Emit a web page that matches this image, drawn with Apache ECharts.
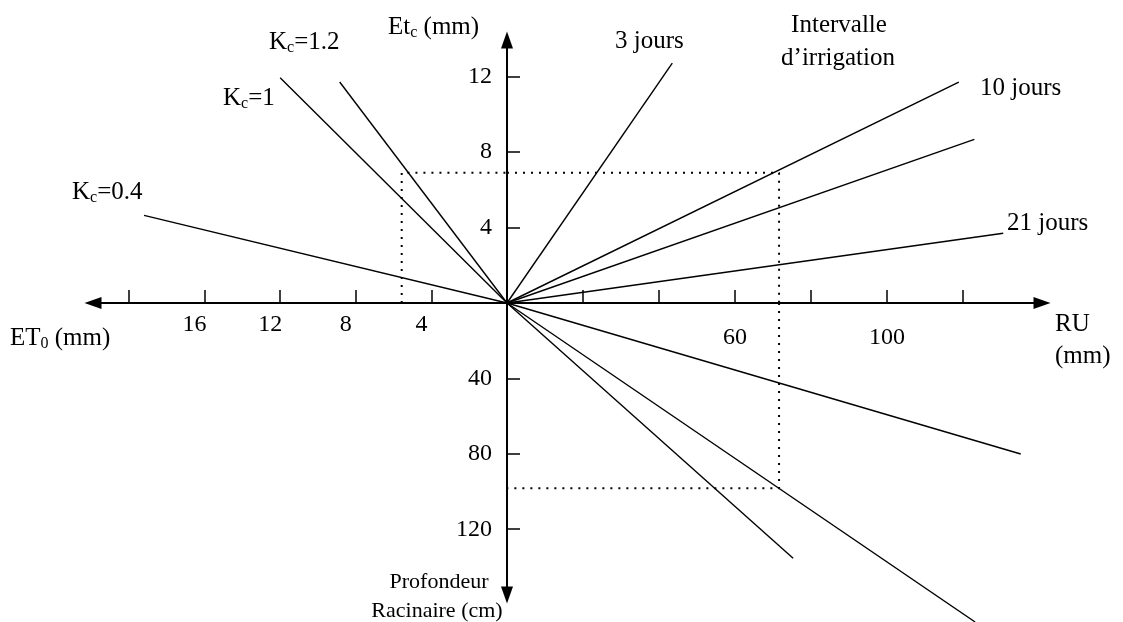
<!DOCTYPE html>
<html><head><meta charset="utf-8">
<script src="https://cdn.jsdelivr.net/npm/echarts@6/dist/echarts.min.js"></script>
<style>html,body{margin:0;padding:0;background:#fff}#c{width:1123px;height:622px}</style>
</head><body><div id="c"></div>
<script>
// ---- axis ticks / labels ----
const et0TickValues = [4, 8, 12, 16, 20];
const et0LabelValues = [4, 8, 12, 16];
const etcTickValues = [4, 8, 12];
const ruTickValues = [20, 40, 60, 80, 100, 120];
const ruLabelValues = [60, 100];
const depthTickValues = [40, 80, 120];

// ---- Kc lines (upper-left quadrant): end points (ET0 mm, ETc mm) ----
const kcNames = ['0.4', '1', '1.2'];
const kcEt0 = [19.2, 12.0, 8.85];
const kcEtc = [4.65, 11.95, 11.72];

// ---- irrigation-interval lines (upper-right): end points (RU mm, ETc mm) ----
const intervalNames = ['3 jours', '10 jours', '', '21 jours'];
const intervalRU = [43.5, 118.9, 123.0, 130.6];
const intervalEtc = [12.72, 11.71, 8.68, 3.70];

// ---- root-depth lines (lower-right): end points (RU mm, depth cm) ----
const depthRU = [135.2, 123.2, 75.3];
const depthCm = [80.1, 169.2, 135.4];

// ---- dotted example path ----
const guideET0 = 5.57, guideEtc = 6.91, guideRU = 71.6, guideDepth = 98.3;

const SERIF = '"Liberation Serif", "Times New Roman", serif';
const black = '#000';

function lineSeries(xi, yi, pts, dotted) {
  return {
    type: 'line', xAxisIndex: xi, yAxisIndex: yi, data: pts,
    symbol: 'none', clip: false, silent: true, animation: false,
    lineStyle: dotted ? {color: black, width: 2, type: [2, 6]} : {color: black, width: 1.4}
  };
}
const series = [];
kcEt0.forEach((v, i) => series.push(lineSeries(0, 0, [[0, 0], [v, kcEtc[i]]])));
intervalRU.forEach((v, i) => series.push(lineSeries(1, 1, [[0, 0], [v, intervalEtc[i]]])));
depthRU.forEach((v, i) => series.push(lineSeries(2, 2, [[0, 0], [v, depthCm[i]]])));
series.push(lineSeries(0, 0, [[guideET0, 0], [guideET0, guideEtc], [0, guideEtc]], true));
series.push(lineSeries(1, 1, [[0, guideEtc], [guideRU, guideEtc], [guideRU, 0]], true));
series.push(lineSeries(2, 2, [[guideRU, 0], [guideRU, guideDepth], [0, guideDepth]], true));

const axisLine = sym => ({show: true, onZero: false, symbol: sym, symbolSize: [12, 17],
  lineStyle: {color: black, width: 2}});
const tick = vals => ({show: true, inside: true, length: 13, customValues: vals, lineStyle: {color: black, width: 1.5}});
const lbl = (vals, extra) => Object.assign({show: true, customValues: vals, color: black,
  fontFamily: SERIF, fontSize: 24}, extra);

const rich = {
  m: {fontFamily: SERIF, fontSize: 25, color: black},
  s: {fontFamily: SERIF, fontSize: 16, color: black, padding: [12, 0, 0, 0]}
};
function txt(x, y, text, align, size) {
  return {type: 'text', x: x, y: y, silent: true,
    style: {text: text, fill: black, fontFamily: SERIF, fontSize: size || 25,
      align: align || 'left', verticalAlign: 'middle', rich: rich}};
}

const option = {
  backgroundColor: '#fff',
  animation: false,
  grid: [
    {left: 93, top: 40, width: 414, height: 263},
    {left: 507, top: 40, width: 535, height: 263},
    {left: 507, top: 303, width: 535, height: 292}
  ],
  xAxis: [
    {type: 'value', gridIndex: 0, min: 0, max: 21.9, inverse: true, position: 'bottom',
      axisLine: axisLine(['triangle', 'none']), axisTick: tick(et0TickValues), splitLine: {show: false},
      axisLabel: lbl(et0LabelValues, {margin: 10, padding: [0, 20, 0, 0]})},
    {type: 'value', gridIndex: 1, min: 0, max: 140.8, position: 'bottom',
      axisLine: axisLine(['none', 'triangle']), axisTick: tick(ruTickValues), splitLine: {show: false},
      axisLabel: lbl(ruLabelValues, {margin: 23})},
    {type: 'value', gridIndex: 2, min: 0, max: 140.8, position: 'top', show: false}
  ],
  yAxis: [
    {type: 'value', gridIndex: 0, min: 0, max: 13.95, show: false},
    {type: 'value', gridIndex: 1, min: 0, max: 13.95, position: 'left',
      axisLine: axisLine(['none', 'triangle']), axisTick: tick(etcTickValues), splitLine: {show: false},
      axisLabel: lbl(etcTickValues, {margin: 15, padding: [10, 0, 0, 0]})},
    {type: 'value', gridIndex: 2, min: 0, max: 154.9, inverse: true, position: 'left',
      axisLine: axisLine(['triangle', 'none']), axisTick: tick(depthTickValues), splitLine: {show: false},
      axisLabel: lbl(depthTickValues, {margin: 15, padding: [10, 0, 0, 0]})}
  ],
  series: series,
  graphic: [
    txt(72, 192, '{m|K}{s|c}{m|=' + kcNames[0] + '}'),
    txt(223, 98, '{m|K}{s|c}{m|=' + kcNames[1] + '}'),
    txt(269, 42, '{m|K}{s|c}{m|=' + kcNames[2] + '}'),
    txt(388, 27, '{m|Et}{s|c}{m| (mm)}'),
    txt(615, 41, intervalNames[0]),
    txt(839, 25, 'Intervalle', 'center'),
    txt(838, 58, 'd\u2019irrigation', 'center'),
    txt(980, 88, intervalNames[1]),
    txt(1007, 223, intervalNames[3]),
    txt(1055, 324, 'RU'),
    txt(1055, 356, '(mm)'),
    txt(10, 338, '{m|ET}{s|0}{m| (mm)}'),
    txt(439, 582, 'Profondeur', 'center', 22),
    txt(437, 611, 'Racinaire (cm)', 'center', 22)
  ]
};
const chart = echarts.init(document.getElementById('c'), null, {renderer: 'canvas'});
chart.setOption(option);
</script></body></html>
